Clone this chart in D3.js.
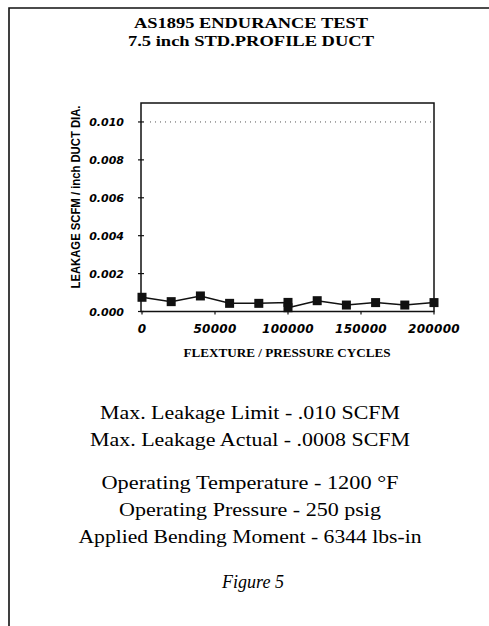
<!DOCTYPE html>
<html>
<head>
<meta charset="utf-8">
<script src="https://cdn.jsdelivr.net/npm/d3@7"></script>
<style>
  body { margin: 0; background: #fff; }
  svg { display: block; }
</style>
</head>
<body>
<svg id="chart"></svg>
<script>
///////////////////////////
//  data
///////////////////////////
var titleLines = ['AS1895 ENDURANCE TEST', '7.5 inch STD.PROFILE DUCT'];
var cycles = [0, 20000, 40000, 60000, 80000, 100000, 100000, 120000, 140000, 160000, 180000, 200000];
var leakage = [0.00075, 0.00052, 0.00082, 0.00043, 0.00043, 0.00048, 0.0002, 0.00057, 0.00034, 0.00047, 0.00034, 0.00047];
var leakLimit = 0.010;
var xTicks = [0, 50000, 100000, 150000, 200000];
var yTicks = [0, 0.002, 0.004, 0.006, 0.008, 0.010];
var xTitle = 'FLEXTURE / PRESSURE CYCLES';
var yTitle = 'LEAKAGE SCFM / inch DUCT DIA.';
var notes = [
  'Max. Leakage Limit - .010 SCFM',
  'Max. Leakage Actual - .0008 SCFM',
  'Operating Temperature - 1200 °F',
  'Operating Pressure - 250 psig',
  'Applied Bending Moment - 6344 lbs-in'
];
var caption = 'Figure 5';

///////////////////
// setup
//////////////////
var width = 489;
var height = 626;
var svg = d3.select('#chart')
    .attr('width', width)
    .attr('height', height)

svg.append('rect')
    .attr('width', width)
    .attr('height', height)
    .attr('fill', '#fff')

// page frame (top + left edges only)
svg.append('path')
    .attr('d', 'M9,626 L9,8 L489,8')
    .attr('fill', 'none')
    .attr('stroke', '#111')
    .attr('stroke-width', 1.6)

// title
var titleY = [28, 46];
var titleLen = [234, 246];
svg.selectAll('.title')
  .data(titleLines)
  .enter()
  .append('text')
    .classed('title', true)
    .attr('x', 251)
    .attr('y', (d, i) => titleY[i])
    .attr('text-anchor', 'middle')
    .attr('textLength', (d, i) => titleLen[i])
    .attr('lengthAdjust', 'spacingAndGlyphs')
    .style('font-family', '"Liberation Serif", serif')
    .style('font-weight', 'bold')
    .style('font-size', '15px')
    .text(d => d)

//// plot
var xScale = d3.scaleLinear()
               .domain([0, 200000])
               .range([142, 434])

var yScale = d3.scaleLinear()
               .domain([0, 0.011])
               .range([311.5, 103])

var plot = svg.append('g')

plot.append('rect')
    .attr('x', xScale.range()[0] - 1)
    .attr('y', yScale.range()[1])
    .attr('width', xScale.range()[1] - xScale.range()[0] + 1)
    .attr('height', yScale.range()[0] - yScale.range()[1])
    .attr('fill', 'none')
    .attr('stroke', '#111')
    .attr('stroke-width', 1.5)

// y ticks
var x0 = xScale.range()[0] - 1;
plot.selectAll('.ytick')
  .data(yTicks)
  .enter()
  .append('line')
    .attr('x1', x0 - 3)
    .attr('x2', x0 + 3)
    .attr('y1', d => yScale(d))
    .attr('y2', d => yScale(d))
    .attr('stroke', '#111')
    .attr('stroke-width', 1.2)

plot.selectAll('.ylab')
  .data(yTicks)
  .enter()
  .append('text')
    .attr('x', 124)
    .attr('y', d => yScale(d) + 4)
    .attr('text-anchor', 'end')
    .style('font-family', '"DejaVu Sans", sans-serif')
    .style('font-style', 'italic')
    .style('font-weight', 'bold')
    .style('font-size', '11px')
    .text(d => d3.format('.3f')(d))

// x ticks
var y0 = yScale.range()[0];
plot.selectAll('.xtick')
  .data(xTicks)
  .enter()
  .append('line')
    .attr('x1', d => xScale(d))
    .attr('x2', d => xScale(d))
    .attr('y1', y0)
    .attr('y2', y0 + 3)
    .attr('stroke', '#111')
    .attr('stroke-width', 1.2)

plot.selectAll('.xlab')
  .data(xTicks)
  .enter()
  .append('text')
    .attr('x', d => xScale(d))
    .attr('y', 333)
    .attr('text-anchor', 'middle')
    .style('font-family', '"DejaVu Sans", sans-serif')
    .style('font-style', 'italic')
    .style('font-weight', 'bold')
    .style('font-size', '12px')
    .style('letter-spacing', '0.3px')
    .text(d => d)

// axis titles
svg.append('text')
    .attr('x', 287)
    .attr('y', 357)
    .attr('text-anchor', 'middle')
    .attr('textLength', 207)
    .attr('lengthAdjust', 'spacingAndGlyphs')
    .style('font-family', '"Liberation Serif", serif')
    .style('font-weight', 'bold')
    .style('font-size', '12px')
    .text(xTitle)

svg.append('text')
    .attr('transform', 'translate(80,197) rotate(-90)')
    .attr('text-anchor', 'middle')
    .attr('textLength', 183)
    .attr('lengthAdjust', 'spacingAndGlyphs')
    .style('font-family', '"Liberation Sans", sans-serif')
    .style('font-weight', 'bold')
    .style('font-size', '12.5px')
    .text(yTitle)

// limit line
plot.append('line')
    .attr('x1', 150)
    .attr('x2', 432)
    .attr('y1', yScale(leakLimit))
    .attr('y2', yScale(leakLimit))
    .attr('stroke', '#555')
    .attr('stroke-width', 1)
    .attr('stroke-dasharray', '1,4')

// series
var points = cycles.map((c, i) => ({x: c, y: leakage[i]}));
var line = d3.line()
             .x(d => xScale(d.x))
             .y(d => yScale(d.y))

plot.append('path')
    .datum(points)
    .attr('d', line)
    .attr('fill', 'none')
    .attr('stroke', '#111')
    .attr('stroke-width', 1.5)

var m = 9;
plot.selectAll('.marker')
  .data(points)
  .enter()
  .append('rect')
    .classed('marker', true)
    .attr('x', d => xScale(d.x) - m / 2)
    .attr('y', d => yScale(d.y) - m / 2)
    .attr('width', m)
    .attr('height', m)
    .attr('fill', '#111')

//// notes under the chart
var noteY = [419, 446, 489, 516, 543];
var noteLen = [300, 320, 297, 262, 343];
svg.selectAll('.note')
  .data(notes)
  .enter()
  .append('text')
    .classed('note', true)
    .attr('x', 250)
    .attr('y', (d, i) => noteY[i])
    .attr('text-anchor', 'middle')
    .attr('textLength', (d, i) => noteLen[i])
    .attr('lengthAdjust', 'spacingAndGlyphs')
    .style('font-family', '"Liberation Serif", serif')
    .style('font-size', '18px')
    .text(d => d)

svg.append('text')
    .attr('x', 253)
    .attr('y', 588)
    .attr('text-anchor', 'middle')
    .style('font-family', '"Liberation Serif", serif')
    .style('font-style', 'italic')
    .style('font-size', '18px')
    .text(caption)
</script>
</body>
</html>
